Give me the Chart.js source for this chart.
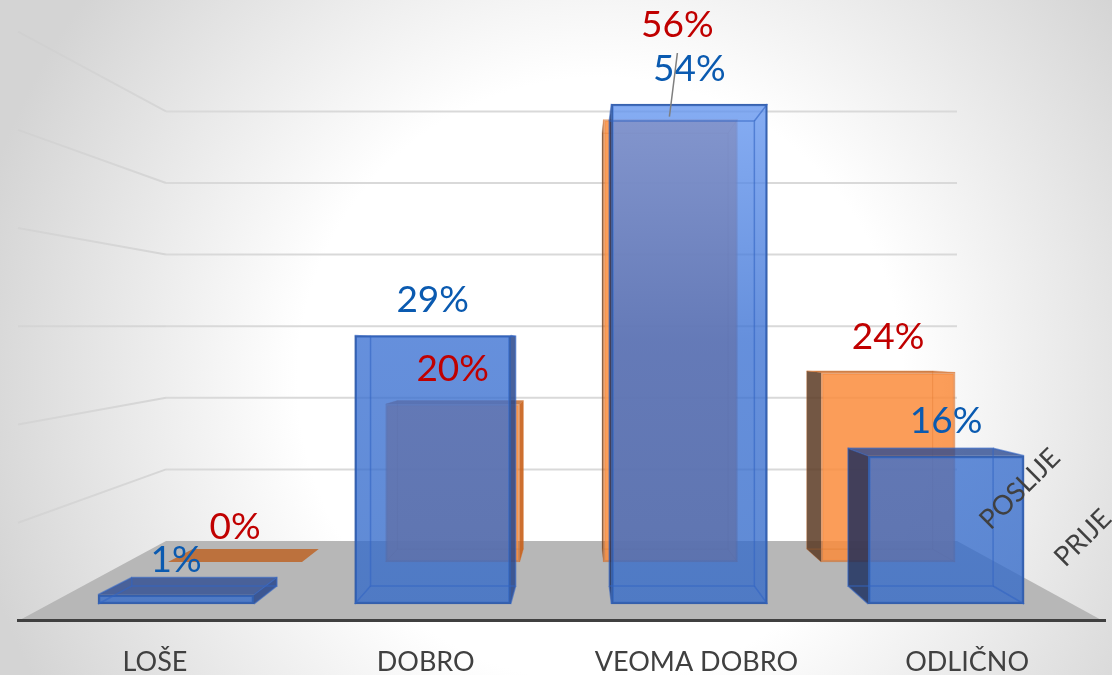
<!DOCTYPE html>
<html>
<head>
<meta charset="utf-8">
<title>Prije / Poslije</title>
<script src="https://cdn.jsdelivr.net/npm/chart.js@4"></script>
<style>
    html, body { margin: 0; padding: 0; background: #fff; overflow: hidden; }
    canvas { display: block; }
</style>
</head>
<body>
<canvas id="myChart" width="1112" height="675"></canvas>
<script>
let categories = ["LOŠE", "DOBRO", "VEOMA DOBRO", "ODLIČNO"];
let prijeValues = [1, 29, 54, 16];
let poslijeValues = [0, 20, 56, 24];
let seriesNames = ["PRIJE", "POSLIJE"];
let gridTicks = [10, 20, 30, 40, 50, 60];

// chart area is fixed, the axes below get min/max so the three depth planes land right
const area = { left: 18, right: 1105, top: 0, bottom: 620 };
const wall = { left: 166, right: 957 };
const wallVanish = { x: 564, y: 326 };
const boxVanish = { x: 581, y: 347 };
const blueDepth = 0.93;
const orangeDepth = 0.94;
const labelFont = "Lato, 'Open Sans', sans-serif";

function rangeFor(zeroPx, pxPerUnit, lowPx, highPx, flip) {
    // flip is for y axes, where values grow upwards
    if (flip) return { min: (zeroPx - lowPx) / pxPerUnit, max: (zeroPx - highPx) / pxPerUnit };
    return { min: (lowPx - zeroPx) / pxPerUnit, max: (highPx - zeroPx) / pxPerUnit };
}

function hiddenAxis(range) {
    return { type: "linear", display: false, offset: false, min: range.min, max: range.max, grid: { display: false } };
}

function project(x, y, k) {
    return { x: boxVanish.x + k * (x - boxVanish.x), y: boxVanish.y + k * (y - boxVanish.y) };
}

function wallEnd(x, y, toX) {
    let ratio = (toX - wallVanish.x) / (x - wallVanish.x);
    return { x: toX, y: wallVanish.y + (y - wallVanish.y) * ratio };
}

function poly(ctx, points, fill, stroke, width) {
    ctx.beginPath();
    points.forEach((p, i) => i ? ctx.lineTo(p.x, p.y) : ctx.moveTo(p.x, p.y));
    ctx.closePath();
    if (fill) { ctx.fillStyle = fill; ctx.fill(); }
    if (stroke) { ctx.strokeStyle = stroke; ctx.lineWidth = width || 1; ctx.stroke(); }
}

function boxCorners(bar, k) {
    let l = bar.x - bar.width / 2, r = bar.x + bar.width / 2;
    return {
        ftl: { x: l, y: bar.y }, ftr: { x: r, y: bar.y }, fbl: { x: l, y: bar.base }, fbr: { x: r, y: bar.base },
        btl: project(l, bar.y, k), btr: project(r, bar.y, k), bbl: project(l, bar.base, k), bbr: project(r, bar.base, k)
    };
}

const styles = [
    { depth: blueDepth, side: "rgba(20,40,90,0.8)", sideLight: "rgba(40,70,140,0.85)", top: "rgba(45,75,145,0.8)", line: "rgba(50,100,195,0.6)", lineWidth: 1.5 },
    { depth: orangeDepth, side: "rgba(90,58,35,0.85)", sideLight: "rgba(200,95,25,0.9)", top: "rgba(190,90,20,0.75)", line: "rgba(215,105,30,0.3)", lineWidth: 1 }
];

// the parts of the boxes the library has no element for
const boxPlugin = {
    id: "boxPlugin",
    beforeDraw(chart) {
        let ctx = chart.ctx;
        let bg = ctx.createRadialGradient(600, 380, 0, 600, 380, 720);
        bg.addColorStop(0, "#ffffff");
        bg.addColorStop(0.42, "#ffffff");
        bg.addColorStop(0.89, "#d4d4d4");
        bg.addColorStop(1, "#d4d4d4");
        ctx.fillStyle = bg;
        ctx.fillRect(0, 0, chart.width, chart.height);

        let yWall = chart.scales.yWall;
        let floorY = yWall.getPixelForValue(0);
        let floorLeft = wallEnd(wall.left, floorY, area.left);
        let floorRight = wallEnd(wall.right, floorY, area.right);
        poly(ctx, [{ x: wall.left, y: floorY }, { x: wall.right, y: floorY }, floorRight, floorLeft], "#b7b7b7");

        ctx.lineWidth = 2;
        gridTicks.forEach(t => {
            let y = yWall.getPixelForValue(t);
            let end = wallEnd(wall.left, y, area.left);
            let fade = ctx.createLinearGradient(wall.left, y, end.x, end.y);
            fade.addColorStop(0, "rgba(214,214,214,1)");
            fade.addColorStop(1, "rgba(205,205,205,0.5)");
            ctx.strokeStyle = fade;
            ctx.beginPath();
            ctx.moveTo(end.x, end.y);
            ctx.lineTo(wall.left, y);
            ctx.stroke();
            ctx.strokeStyle = "#d9d9d9";
            ctx.beginPath();
            ctx.moveTo(wall.left, y);
            ctx.lineTo(wall.right, y);
            ctx.stroke();
        });
    },
    beforeDatasetDraw(chart, args) {
        let ctx = chart.ctx;
        let st = styles[args.index];
        args.meta.data.forEach(bar => {
            let c = boxCorners(bar, st.depth);
            if (c.btl.x < c.ftl.x) poly(ctx, [c.ftl, c.btl, c.bbl, c.fbl], st.side);
            if (c.btr.x > c.ftr.x) poly(ctx, [c.ftr, c.btr, c.bbr, c.fbr], st.sideLight);
            if (c.btl.y < c.ftl.y) poly(ctx, [c.ftl, c.ftr, c.btr, c.btl], st.top);
        });
    },
    afterDatasetDraw(chart, args) {
        let ctx = chart.ctx;
        let st = styles[args.index];
        args.meta.data.forEach(bar => {
            if (bar.base - bar.y < 1) return;
            let c = boxCorners(bar, st.depth);
            poly(ctx, [c.btl, c.btr, c.bbr, c.bbl], null, st.line, st.lineWidth);
            ctx.beginPath();
            [[c.ftl, c.btl], [c.ftr, c.btr], [c.fbl, c.bbl], [c.fbr, c.bbr]].forEach(e => {
                ctx.moveTo(e[0].x, e[0].y);
                ctx.lineTo(e[1].x, e[1].y);
            });
            ctx.stroke();
        });
    },
    afterDatasetsDraw(chart) {
        let ctx = chart.ctx;
        ctx.textAlign = "center";
        ctx.textBaseline = "middle";
        ctx.font = "37px " + labelFont;

        // POSLIJE first, the 56% label was pulled up by hand and has a leader line
        let back = chart.getDatasetMeta(1).data;
        let front = chart.getDatasetMeta(0).data;
        ctx.fillStyle = "#c00000";
        back.forEach((bar, i) => {
            let moved = i === 2;
            let x = bar.x + (moved ? 7 : 0);
            let y = moved ? 25 : bar.y - 35;
            ctx.fillText(poslijeValues[i] + "%", x, y);
        });
        ctx.fillStyle = "#0a5ab0";
        front.forEach((bar, i) => ctx.fillText(prijeValues[i] + "%", bar.x, bar.y - 35));

        let topBar = back[2];
        ctx.beginPath();
        ctx.moveTo(topBar.x + 7, 53);
        ctx.lineTo(topBar.x - 1, topBar.y - 3);
        ctx.strokeStyle = "#7f7f7f";
        ctx.lineWidth = 1.5;
        ctx.stroke();

        // series names on the depth axis
        ctx.font = "27px " + labelFont;
        ctx.fillStyle = "#404040";
        [[1083, 538, seriesNames[0]], [1020, 489, seriesNames[1]]].forEach(s => {
            ctx.save();
            ctx.translate(s[0], s[1]);
            ctx.rotate(-Math.PI / 4);
            ctx.fillText(s[2], 0, 0);
            ctx.restore();
        });
    }
};

function blueFill(context) {
    let a = context.chart.chartArea;
    if (!a) return "rgba(50,105,205,0.78)";
    let g = context.chart.ctx.createLinearGradient(0, 100, 0, 604);
    g.addColorStop(0, "rgba(100,150,240,0.78)");
    g.addColorStop(0.48, "rgba(58,112,210,0.78)");
    g.addColorStop(1, "rgba(50,105,200,0.78)");
    return g;
}

let ctx = document.getElementById("myChart").getContext("2d");
let chartInstance = new Chart(ctx, {
    type: "bar",
    data: {
        datasets: [
            {
                label: seriesNames[0],
                data: prijeValues.map((v, i) => ({ x: i, y: v })),
                xAxisID: "xFront",
                yAxisID: "yFront",
                barThickness: 156,
                backgroundColor: blueFill,
                borderColor: "rgba(45,90,170,0.95)",
                borderWidth: 2,
                borderSkipped: false
            },
            {
                label: seriesNames[1],
                data: poslijeValues.map((v, i) => ({ x: i, y: v })),
                xAxisID: "xBack",
                yAxisID: "yBack",
                barThickness: 134,
                backgroundColor: "rgba(250,140,60,0.85)",
                borderColor: "rgba(215,105,30,0.6)",
                borderWidth: 2,
                borderSkipped: false
            }
        ]
    },
    options: {
        responsive: false,
        animation: false,
        grouped: false,
        layout: { padding: { left: area.left, right: 1112 - area.right, top: area.top, bottom: 0 } },
        plugins: { legend: { display: false }, tooltip: { enabled: false } },
        scales: {
            xFront: hiddenAxis(rangeFor(176, 256.7, area.left, area.right)),
            xBack: hiddenAxis(rangeFor(235, 217.7, area.left, area.right)),
            yFront: hiddenAxis(rangeFor(604, 9.26, area.bottom, area.top, true)),
            yBack: hiddenAxis(rangeFor(562, 7.9, area.bottom, area.top, true)),
            yWall: hiddenAxis(rangeFor(541, 7.16, area.bottom, area.top, true)),
            xLabels: {
                type: "linear",
                position: "bottom",
                offset: false,
                min: rangeFor(155, 270.7, area.left, area.right).min,
                max: rangeFor(155, 270.7, area.left, area.right).max,
                grid: { display: false },
                border: { display: true, color: "#404040", width: 3 },
                afterBuildTicks: scale => { scale.ticks = categories.map((c, i) => ({ value: i })); },
                afterFit: scale => { scale.height = 675 - area.bottom; },
                ticks: {
                    autoSkip: false,
                    maxRotation: 0,
                    padding: 18,
                    color: "#404040",
                    font: { family: labelFont, size: 27 },
                    callback: value => categories[value]
                }
            }
        }
    },
    plugins: [boxPlugin]
});
</script>
</body>
</html>
